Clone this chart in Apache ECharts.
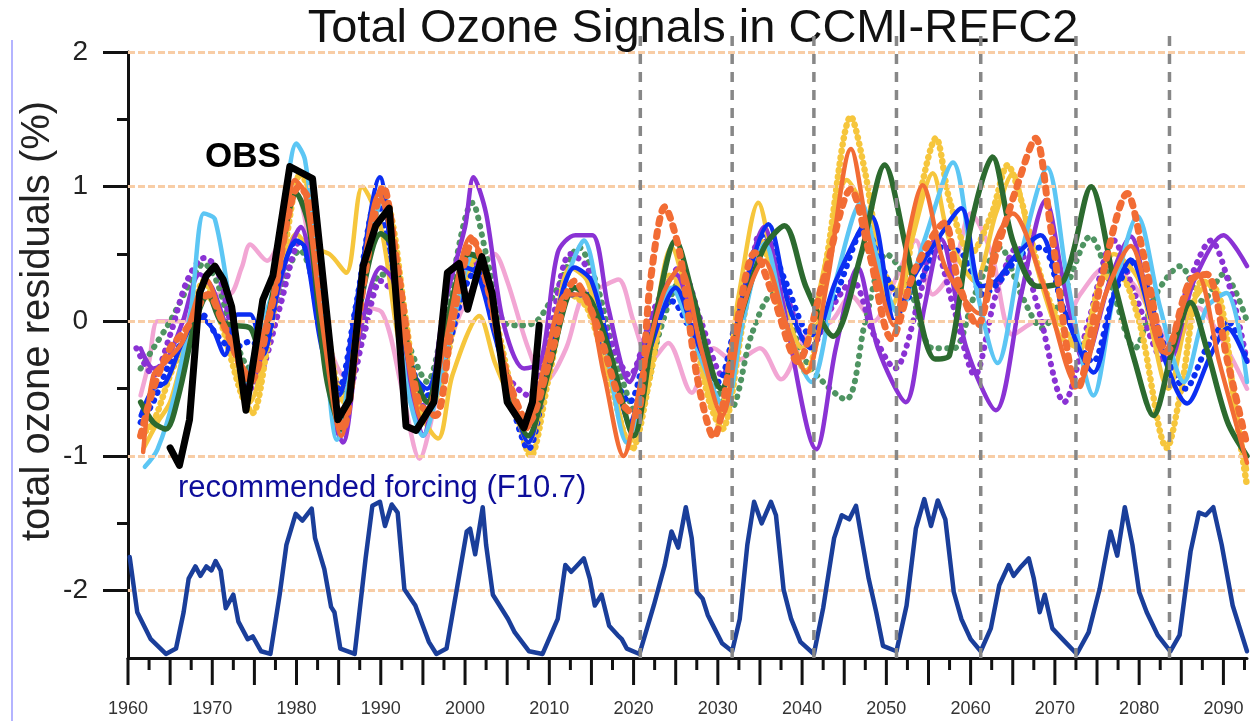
<!DOCTYPE html>
<html>
<head>
<meta charset="utf-8">
<script src="https://cdn.jsdelivr.net/npm/echarts@6/dist/echarts.min.js"></script>
<style>
  html, body { margin: 0; padding: 0; background: #fff; }
  #chart { width: 1250px; height: 721px; }
</style>
</head>
<body>
<div id="chart"></div>
<script>
/* 轴刻度 */
var yMajorTicks = [-2, -1, 0, 1, 2];
var yMinorTicks = [-1.5, -0.5, 0.5, 1.5];
var xMajorTicks = [1960, 1965, 1970, 1975, 1980, 1985, 1990, 1995, 2000, 2005, 2010, 2015, 2020, 2025, 2030, 2035, 2040, 2045, 2050, 2055, 2060, 2065, 2070, 2075, 2080, 2085, 2090];
var xMinorTicks = [1962.5, 1967.5, 1972.5, 1977.5, 1982.5, 1987.5, 1992.5, 1997.5, 2002.5, 2007.5, 2012.5, 2017.5, 2022.5, 2027.5, 2032.5, 2037.5, 2042.5, 2047.5, 2052.5, 2057.5, 2062.5, 2067.5, 2072.5, 2077.5, 2082.5, 2087.5, 2092.5];
var solarMinYears = [2020.8, 2031.7, 2041.4, 2051.2, 2061.2, 2072.5, 2083.6];

/* 太阳强迫 F10.7 (按比例画在下方) */
var f107 = [[1960.2,-1.75],[1961.1,-2.16],[1962.7,-2.36],[1964.5,-2.47],[1965.7,-2.43],[1966.6,-2.16],[1967.2,-1.91],[1968.0,-1.82],[1968.6,-1.89],[1969.3,-1.82],[1969.9,-1.85],[1970.4,-1.78],[1971.0,-1.85],[1971.6,-2.13],[1972.5,-2.03],[1973.1,-2.23],[1974.2,-2.36],[1974.8,-2.34],[1975.8,-2.45],[1976.9,-2.47],[1978.0,-2.03],[1978.8,-1.66],[1979.9,-1.43],[1980.7,-1.48],[1981.8,-1.39],[1982.2,-1.61],[1983.3,-1.84],[1984.1,-2.12],[1984.5,-2.16],[1985.2,-2.43],[1986.9,-2.47],[1988.2,-1.76],[1989.0,-1.37],[1989.9,-1.34],[1990.5,-1.52],[1991.3,-1.36],[1992.0,-1.42],[1992.8,-1.99],[1994.1,-2.11],[1995.7,-2.38],[1996.6,-2.47],[1997.8,-2.43],[1999.1,-1.96],[2000.2,-1.56],[2000.6,-1.54],[2001.2,-1.73],[2002.1,-1.38],[2002.5,-1.66],[2003.3,-2.03],[2004.1,-2.11],[2005.1,-2.21],[2005.9,-2.31],[2007.6,-2.45],[2009.2,-2.47],[2011.0,-2.21],[2011.9,-1.81],[2012.6,-1.86],[2013.2,-1.82],[2014.1,-1.76],[2014.8,-1.91],[2015.4,-2.11],[2016.2,-2.03],[2017.1,-2.26],[2018.1,-2.33],[2018.6,-2.36],[2019.2,-2.43],[2020.7,-2.47],[2022.4,-2.11],[2023.7,-1.81],[2024.5,-1.56],[2025.3,-1.68],[2026.2,-1.38],[2026.9,-1.61],[2027.5,-2.01],[2028.2,-2.06],[2028.8,-2.18],[2029.6,-2.28],[2030.5,-2.39],[2031.7,-2.45],[2032.6,-2.21],[2033.5,-1.66],[2034.3,-1.34],[2035.2,-1.50],[2036.3,-1.34],[2036.9,-1.44],[2037.8,-1.99],[2038.7,-2.21],[2039.8,-2.38],[2041.4,-2.47],[2042.5,-2.13],[2043.8,-1.61],[2044.7,-1.44],[2045.6,-1.47],[2046.4,-1.37],[2047.2,-1.66],[2047.9,-1.91],[2048.8,-2.16],[2049.6,-2.41],[2051.2,-2.45],[2052.4,-2.11],[2053.5,-1.54],[2054.5,-1.32],[2055.3,-1.52],[2056.1,-1.33],[2057.0,-1.47],[2058.0,-2.01],[2058.9,-2.21],[2060.0,-2.36],[2061.2,-2.45],[2062.4,-2.28],[2063.4,-1.96],[2064.5,-1.81],[2065.1,-1.89],[2066.0,-1.82],[2066.9,-1.76],[2067.5,-1.91],[2068.2,-2.16],[2068.8,-2.03],[2069.7,-2.28],[2070.9,-2.36],[2072.6,-2.47],[2074.0,-2.31],[2075.3,-1.99],[2076.6,-1.56],[2077.4,-1.74],[2078.3,-1.38],[2079.2,-1.66],[2080.0,-2.01],[2080.9,-2.16],[2082.2,-2.33],[2083.7,-2.45],[2084.8,-2.33],[2086.1,-1.71],[2087.1,-1.42],[2087.9,-1.44],[2088.8,-1.38],[2089.8,-1.66],[2091.1,-2.11],[2092.8,-2.45]];

/* 观测 */
var obs = [[1965.0,-0.94],[1966.1,-1.07],[1967.3,-0.73],[1968.5,0.21],[1969.3,0.34],[1970.3,0.41],[1971.3,0.31],[1972.3,0.11],[1974.0,-0.66],[1976.0,0.16],[1977.2,0.34],[1979.2,1.15],[1981.9,1.06],[1984.9,-0.73],[1986.3,-0.58],[1987.9,0.41],[1989.4,0.71],[1991.0,0.84],[1993.0,-0.78],[1994.2,-0.81],[1996.3,-0.60],[1997.9,0.36],[1999.3,0.43],[2000.3,0.09],[2002.0,0.48],[2003.2,0.21],[2005.0,-0.60],[2007.0,-0.79],[2008.0,-0.60],[2008.8,-0.03]];

/* 模式 */
var lightBlue = [[1962.0,-1.08],[1963.5,-0.95],[1965.5,-0.55],[1967.5,0.1],[1969.0,0.8],[1970.3,0.76],[1972.2,0.1],[1973.9,-0.45],[1975.5,-0.1],[1977.5,0.3],[1980.0,1.32],[1981.0,1.2],[1982.8,0.3],[1984.8,-0.88],[1987.0,-0.1],[1989.0,0.65],[1990.3,0.95],[1991.5,0.5],[1993.0,-0.45],[1995.0,-0.85],[1997.0,-0.45],[1999.0,0.1],[2001.0,0.5],[2002.5,0.35],[2004.5,-0.35],[2007.5,-0.85],[2010.0,-0.3],[2012.0,0.3],[2014.1,0.6],[2016.5,-0.1],[2019.2,-0.9],[2022.0,-0.2],[2024.5,0.25],[2027.5,-0.2],[2030.8,-0.64],[2033.0,0.0],[2035.6,0.58],[2038.0,0.0],[2041.1,-0.45],[2044.0,0.3],[2047.0,0.88],[2049.0,0.45],[2051.4,0.06],[2054.5,0.6],[2057.9,1.18],[2060.5,0.3],[2063.2,-0.31],[2066.0,0.5],[2069.1,1.14],[2071.5,0.3],[2074.6,-0.55],[2077.0,0.2],[2079.8,0.78],[2082.5,0.1],[2085.3,-0.45],[2088.0,0.1],[2090.4,0.21],[2092.8,-0.45]];
var blueSolid = [[1961.5,-0.7],[1963.0,-0.5],[1964.5,-0.45],[1966.5,-0.15],[1968.5,0.03],[1970.0,-0.05],[1971.5,-0.25],[1973.0,0.05],[1974.5,0.05],[1976.0,-0.25],[1978.0,0.3],[1980.0,0.6],[1981.0,0.55],[1983.0,-0.2],[1985.0,-0.55],[1987.0,0.1],[1989.9,1.07],[1991.5,0.35],[1993.5,-0.35],[1995.5,-0.5],[1997.5,-0.1],[2000.0,0.4],[2001.5,0.35],[2003.5,-0.1],[2005.5,-0.55],[2007.5,-0.9],[2010.0,-0.2],[2013.0,0.4],[2015.0,0.3],[2017.5,-0.3],[2019.5,-0.75],[2022.0,-0.2],[2025.0,0.25],[2027.5,-0.15],[2030.5,-0.5],[2033.0,0.2],[2036.0,0.72],[2038.5,0.1],[2041.0,-0.2],[2044.0,0.3],[2048.2,0.78],[2051.0,0.0],[2053.0,0.3],[2056.0,0.6],[2058.9,0.84],[2061.2,0.26],[2063.0,0.3],[2065.5,0.5],[2068.3,0.64],[2071.0,0.1],[2074.6,-0.38],[2077.0,0.2],[2079.0,0.46],[2082.0,-0.1],[2085.7,-0.61],[2088.5,-0.25],[2090.5,-0.05],[2092.8,-0.3]];
var darkGreen = [[1961.5,-0.6],[1963.0,-0.75],[1964.5,-0.8],[1966.0,-0.55],[1968.0,0.0],[1969.5,0.2],[1971.0,0.0],[1972.5,-0.03],[1974.5,-0.05],[1975.5,-0.2],[1977.5,0.3],[1980.0,0.95],[1981.5,0.7],[1983.5,-0.4],[1985.3,-0.8],[1987.5,0.1],[1990.0,0.65],[1991.5,0.55],[1993.5,-0.3],[1995.5,-0.6],[1997.5,-0.1],[2000.5,0.5],[2002.0,0.45],[2004.5,-0.3],[2007.5,-0.85],[2010.0,-0.35],[2013.0,0.25],[2015.0,0.15],[2017.5,-0.3],[2020.0,-0.85],[2022.5,0.0],[2025.0,0.6],[2027.0,0.2],[2030.4,-0.5],[2033.0,0.1],[2035.5,0.55],[2037.9,0.71],[2040.5,0.25],[2043.7,-0.11],[2047.0,0.5],[2049.8,1.16],[2052.5,0.5],[2055.8,-0.28],[2057.5,-0.25],[2060.0,0.7],[2062.6,1.22],[2065.0,0.6],[2067.9,0.26],[2071.1,0.31],[2074.3,1.0],[2077.0,0.3],[2079.5,-0.3],[2081.7,-0.70],[2084.0,-0.2],[2086.1,0.14],[2088.0,-0.2],[2090.5,-0.75],[2092.8,-1.0]];
var orangeSolid = [[1961.8,-0.97],[1963.0,-0.4],[1964.5,-0.3],[1966.5,-0.15],[1969.3,0.31],[1971.0,0.05],[1972.5,-0.2],[1974.5,-0.4],[1976.0,-0.1],[1978.0,0.4],[1979.8,1.05],[1981.0,0.95],[1983.0,0.0],[1985.3,-0.85],[1987.5,0.2],[1989.8,0.95],[1991.0,0.7],[1993.0,-0.2],[1995.0,-0.75],[1997.5,-0.2],[2000.7,0.63],[2002.0,0.45],[2004.5,-0.3],[2007.3,-0.8],[2009.5,-0.3],[2012.0,0.2],[2014.0,0.2],[2016.5,-0.4],[2018.8,-1.0],[2021.0,-0.4],[2023.5,0.2],[2025.5,0.4],[2028.0,-0.2],[2030.5,-0.7],[2033.0,0.1],[2035.5,0.45],[2038.0,0.0],[2040.5,-0.38],[2043.0,0.3],[2045.8,1.28],[2048.0,0.6],[2050.9,-0.03],[2052.5,0.6],[2054.3,1.01],[2057.0,0.4],[2061.0,0.06],[2063.0,0.6],[2065.0,0.8],[2068.5,0.3],[2072.7,-0.48],[2076.0,0.2],[2079.0,0.56],[2082.9,-0.23],[2086.9,0.35],[2089.5,-0.3],[2092.8,-1.05]];
var orangeDot = [[1961.5,-0.85],[1963.0,-0.5],[1965.0,-0.2],[1967.0,-0.05],[1969.5,0.2],[1971.5,-0.05],[1974.5,-0.45],[1977.0,0.1],[1980.3,1.0],[1981.5,0.9],[1983.5,0.0],[1985.5,-0.8],[1988.0,0.3],[1990.3,1.0],[1992.0,0.4],[1994.5,-0.6],[1996.5,-0.7],[1998.5,0.0],[2001.0,0.6],[2002.5,0.3],[2005.0,-0.4],[2007.5,-0.75],[2010.0,-0.3],[2013.0,0.3],[2015.5,0.0],[2018.5,-0.6],[2020.3,-0.7],[2022.0,0.3],[2023.7,0.85],[2025.5,0.5],[2027.5,-0.4],[2029.5,-0.86],[2032.0,-0.1],[2034.4,0.51],[2036.5,0.2],[2039.5,-0.3],[2042.5,0.3],[2045.8,0.98],[2048.0,0.5],[2050.6,-0.13],[2053.5,0.4],[2056.9,0.73],[2058.5,0.3],[2060.8,-0.03],[2063.0,0.5],[2065.5,1.0],[2067.7,1.36],[2069.5,0.7],[2072.7,-0.5],[2075.5,0.3],[2078.6,0.95],[2080.5,0.5],[2083.3,-0.23],[2086.0,0.3],[2088.0,0.35],[2090.5,-0.3],[2092.8,-0.92]];
var yellowSolid = [[1961.8,-0.95],[1963.5,-0.75],[1965.0,-0.6],[1967.0,-0.15],[1969.0,0.2],[1970.5,0.1],[1972.5,-0.2],[1974.5,-0.6],[1976.0,-0.3],[1978.0,0.3],[1980.0,0.65],[1981.5,0.55],[1983.9,0.5],[1985.9,0.36],[1987.8,1.0],[1990.0,0.7],[1992.0,-0.1],[1994.0,-0.6],[1996.8,-0.87],[1998.5,-0.4],[2001.7,0.04],[2003.5,-0.3],[2005.5,-0.6],[2007.5,-0.9],[2010.0,-0.3],[2012.5,0.4],[2014.5,0.3],[2017.0,-0.3],[2019.5,-0.9],[2022.0,-0.2],[2024.5,0.55],[2027.0,0.0],[2030.0,-0.7],[2032.5,0.2],[2034.8,0.88],[2037.0,0.3],[2040.0,-0.2],[2043.0,0.5],[2045.3,1.05],[2047.5,0.8],[2050.5,0.1],[2053.0,0.6],[2055.5,1.1],[2057.5,0.6],[2060.5,0.3],[2063.0,0.8],[2065.0,1.1],[2067.0,0.6],[2070.5,-0.1],[2073.0,-0.2],[2075.0,0.2],[2077.0,0.5],[2080.0,0.3],[2083.5,-0.5],[2086.0,0.1],[2088.5,0.3],[2091.0,-0.5],[2092.8,-1.1]];
var yellowDot = [[1961.5,-0.85],[1963.0,-0.75],[1965.0,-0.4],[1967.0,-0.1],[1969.0,0.3],[1971.0,0.0],[1973.5,-0.55],[1974.8,-0.68],[1976.5,-0.2],[1978.5,0.5],[1980.5,1.1],[1981.5,0.95],[1983.5,0.0],[1985.5,-0.6],[1987.5,0.1],[1989.5,0.9],[1991.0,0.85],[1993.0,0.0],[1995.0,-0.7],[1997.0,-0.5],[1999.5,0.2],[2001.5,0.5],[2003.0,0.2],[2005.5,-0.5],[2007.8,-1.0],[2010.0,-0.4],[2012.5,0.2],[2014.5,0.1],[2017.0,-0.4],[2019.8,-0.95],[2022.0,-0.4],[2024.5,0.35],[2026.5,0.1],[2029.0,-0.6],[2030.5,-0.8],[2033.0,0.0],[2035.0,0.6],[2037.5,0.1],[2040.5,-0.38],[2043.0,0.5],[2045.8,1.52],[2047.5,1.1],[2049.5,0.4],[2051.5,0.2],[2053.5,0.8],[2055.9,1.36],[2057.5,0.9],[2060.0,0.5],[2062.5,0.8],[2064.4,1.16],[2066.0,0.9],[2068.5,0.3],[2070.5,0.0],[2073.0,-0.2],[2075.5,0.3],[2077.5,0.35],[2080.0,0.0],[2083.3,-0.94],[2085.0,-0.5],[2087.5,0.3],[2089.5,0.2],[2091.5,-0.7],[2092.8,-1.22]];
var purpleSolid = [[1961.5,-0.2],[1963.0,-0.35],[1964.5,-0.3],[1966.5,0.0],[1968.5,0.35],[1970.0,0.25],[1972.0,-0.1],[1974.5,-0.45],[1976.5,-0.1],[1979.0,0.5],[1980.5,0.7],[1982.0,0.3],[1984.5,-0.75],[1985.5,-0.9],[1987.5,-0.1],[1990.0,0.4],[1991.5,0.3],[1993.5,-0.5],[1995.0,-0.85],[1997.5,0.1],[2000.0,0.7],[2001.0,1.07],[2002.5,0.8],[2004.5,0.0],[2007.0,-0.35],[2009.0,-0.3],[2011.0,0.51],[2013.1,0.64],[2015.1,0.64],[2017.0,0.1],[2019.5,-0.45],[2022.0,0.0],[2025.0,0.35],[2027.5,-0.1],[2030.5,-0.5],[2033.0,0.2],[2035.5,0.7],[2037.5,0.2],[2041.7,-0.95],[2044.0,-0.2],[2046.6,0.4],[2049.0,-0.2],[2052.3,-0.6],[2054.5,0.1],[2056.5,0.61],[2059.5,-0.2],[2063.0,-0.66],[2066.0,0.2],[2068.9,0.9],[2071.0,0.3],[2073.5,-0.3],[2076.5,0.3],[2079.0,0.63],[2081.5,0.0],[2083.5,-0.3],[2086.5,0.3],[2090.0,0.64],[2092.8,0.41]];
var purpleDot = [[1961.0,-0.2],[1963.0,-0.4],[1965.0,-0.1],[1967.0,0.3],[1969.0,0.47],[1970.5,0.4],[1972.5,-0.1],[1974.5,-0.5],[1976.0,-0.35],[1978.0,0.1],[1980.5,0.6],[1982.0,0.35],[1984.0,-0.4],[1986.0,-0.5],[1988.0,-0.1],[1990.0,0.3],[1991.5,0.2],[1993.5,-0.5],[1995.5,-0.65],[1998.0,0.0],[2000.5,0.5],[2002.5,0.2],[2005.0,-0.4],[2007.5,-0.55],[2010.0,-0.1],[2012.5,0.5],[2014.5,0.4],[2017.0,-0.1],[2019.5,-0.4],[2022.5,0.1],[2025.5,0.4],[2028.0,0.0],[2030.5,-0.4],[2033.5,0.2],[2035.0,0.65],[2037.5,0.3],[2041.0,-0.2],[2043.5,0.1],[2046.0,0.3],[2048.5,-0.1],[2051.0,-0.35],[2054.0,0.2],[2055.5,0.6],[2058.0,0.1],[2060.5,-0.4],[2063.0,0.2],[2065.5,0.55],[2068.0,0.1],[2071.1,-0.6],[2074.0,0.0],[2077.0,0.6],[2079.5,0.2],[2083.0,-0.3],[2086.0,0.3],[2088.5,0.6],[2091.0,0.2],[2092.8,-0.3]];
var greenDot = [[1961.5,-0.35],[1963.0,-0.2],[1965.0,0.0],[1967.5,0.3],[1969.0,0.43],[1970.5,0.3],[1972.5,-0.1],[1974.5,-0.35],[1976.5,-0.1],[1978.5,0.3],[1980.4,0.53],[1982.0,0.3],[1983.5,-0.2],[1985.5,-0.55],[1987.5,-0.2],[1990.0,0.35],[1991.5,0.3],[1993.5,-0.2],[1995.5,-0.45],[1997.5,0.0],[2000.9,0.88],[2002.5,0.5],[2004.5,0.0],[2006.5,-0.03],[2008.5,0.0],[2011.0,0.25],[2013.5,0.55],[2015.5,0.3],[2018.0,-0.3],[2020.5,-0.7],[2023.0,-0.1],[2025.5,0.3],[2028.5,-0.3],[2031.5,-0.65],[2034.0,-0.1],[2036.5,0.2],[2038.0,0.1],[2040.5,-0.3],[2045.2,-0.58],[2047.5,0.0],[2050.0,0.5],[2052.5,0.3],[2055.5,-0.2],[2058.0,-0.2],[2060.5,0.2],[2063.5,0.55],[2066.0,0.2],[2068.5,-0.05],[2071.0,0.2],[2074.2,0.63],[2076.5,0.3],[2079.5,-0.2],[2082.0,0.2],[2084.9,0.41],[2087.5,0.15],[2090.0,0.35],[2092.8,0.0]];
var pinkSolid = [[1961.5,-0.55],[1962.5,-0.3],[1963.5,0.0],[1965.0,0.0],[1966.5,0.0],[1968.0,0.1],[1970.0,0.2],[1972.0,0.2],[1973.5,0.4],[1974.5,0.57],[1976.5,0.45],[1978.0,0.6],[1980.0,0.95],[1981.5,0.6],[1983.5,-0.1],[1985.5,-0.4],[1987.5,0.1],[1990.2,0.06],[1992.5,-0.5],[1994.6,-1.02],[1996.5,-0.6],[1998.5,-0.1],[2000.5,0.2],[2003.5,0.5],[2005.0,0.3],[2007.5,-0.2],[2009.5,-0.45],[2012.0,-0.2],[2014.0,0.2],[2016.0,0.25],[2018.2,0.31],[2020.0,0.0],[2022.0,-0.3],[2024.1,-0.16],[2026.9,-0.53],[2029.5,-0.2],[2032.0,-0.3],[2035.0,-0.2],[2037.5,-0.43],[2040.5,-0.1],[2043.5,0.0],[2045.8,0.19],[2048.5,0.0],[2051.0,0.3],[2053.5,0.6],[2055.5,0.2],[2058.0,0.4],[2060.0,0.8],[2062.5,0.5],[2065.0,-0.1],[2068.0,0.0],[2071.0,0.0],[2073.0,0.2],[2076.0,0.4],[2079.0,0.3],[2082.0,0.0],[2084.0,-0.2],[2087.0,0.1],[2089.5,-0.1],[2092.8,-0.5]];
var blueDot = [[1961.5,-0.75],[1963.0,-0.6],[1965.0,-0.3],[1967.0,-0.1],[1968.8,0.05],[1970.5,-0.1],[1972.5,-0.2],[1974.5,-0.15],[1976.0,-0.2],[1978.0,0.3],[1980.0,0.6],[1981.0,0.55],[1983.0,-0.1],[1985.0,-0.5],[1987.0,0.1],[1989.5,0.9],[1991.0,0.5],[1993.0,-0.2],[1995.5,-0.55],[1997.5,-0.3],[2000.0,0.25],[2001.5,0.4],[2003.5,-0.05],[2005.5,-0.6],[2007.5,-0.95],[2010.0,-0.3],[2012.5,0.2],[2014.5,0.2],[2017.0,-0.3],[2019.5,-0.6],[2022.0,-0.1],[2024.5,0.15],[2027.0,-0.1],[2030.0,-0.45],[2032.5,0.1],[2035.5,0.65],[2038.0,0.3],[2041.0,-0.1],[2044.0,0.2],[2047.5,0.7],[2049.5,0.4],[2052.0,0.15],[2054.0,0.3],[2056.5,0.55],[2059.0,0.5],[2061.5,0.2],[2063.5,0.3],[2066.0,0.5],[2068.5,0.55],[2071.0,0.1],[2074.5,-0.3],[2077.0,0.2],[2079.5,0.45],[2082.5,-0.1],[2085.5,-0.5],[2088.0,-0.2],[2090.5,0.0],[2092.8,-0.3]];

var FONT = 'Liberation Sans, Arial, sans-serif';
var DOT = [0.5, 8];

function line(name, data, color, width, dash, z, smooth) {
	return {
		name: name,
		type: 'line',
		data: data,
		symbol: 'none',
		smooth: smooth,
		z: z,
		silent: true,
		lineStyle: {
			color: color,
			width: width,
			type: dash || 'solid',
			cap: 'round',
			join: 'round'
		}
	};
}

// x轴刻度线: 从轴线向下画
function tickSeries(ticks, len) {
	return {
		type: 'custom', z: 8, silent: true, clip: false,
		data: ticks.map(function (t) { return [t, -2.5]; }),
		renderItem: function (params, api) {
			var p = api.coord([api.value(0), -2.5]);
			return {
				type: 'line',
				shape: { x1: p[0], y1: p[1], x2: p[0], y2: p[1] + len },
				style: { stroke: '#111', lineWidth: 3 }
			};
		}
	};
}

var myChart = echarts.init(document.getElementById('chart'));

var series = [
	// 水平网格线
	{
		type: 'line', data: [], z: 1, silent: true,
		markLine: {
			symbol: 'none', silent: true, animation: false,
			label: { show: false },
			lineStyle: { color: '#f8cda6', width: 3, type: [7, 3] },
			data: yMajorTicks.map(function (v) { return { yAxis: v }; })
		}
	},
	line('pink', pinkSolid, '#f2a6d4', 4.5, null, 3, 0.3),
	line('green dotted', greenDot, '#4f9462', 6, DOT, 3, 0.3),
	line('purple dotted', purpleDot, '#8a32d4', 6, DOT, 3, 0.3),
	line('yellow dotted', yellowDot, '#f6c63c', 6.5, [0.5, 6], 3, 0.3),
	line('blue dotted', blueDot, '#0b2ef2', 6, DOT, 3, 0.3),
	line('yellow', yellowSolid, '#f6c63c', 4.5, null, 4, 0.3),
	line('purple', purpleSolid, '#8a32d4', 4.5, null, 4, 0.3),
	line('light blue', lightBlue, '#5cc6f4', 4.5, null, 4, 0.3),
	line('blue', blueSolid, '#0b2ef2', 4.5, null, 4, 0.3),
	line('dark green', darkGreen, '#2c6a2f', 5.5, null, 5, 0.3),
	line('orange dotted', orangeDot, '#f26c34', 7, [5, 8], 5, 0.3),
	line('orange', orangeSolid, '#f26c34', 4.5, null, 5, 0.3),
	line('OBS', obs, '#000000', 7, null, 6, false),
	line('F10.7', f107, '#1a3e9a', 4.5, null, 6, false),
	// 太阳活动极小年的竖虚线 (上端略超出绘图区)
	{
		type: 'custom', z: 7, silent: true, clip: false,
		data: solarMinYears.map(function (yr) { return [yr, -2.5]; }),
		renderItem: function (params, api) {
			var bottom = api.coord([api.value(0), -2.5]);
			var top = api.coord([api.value(0), 2]);
			return {
				type: 'line',
				shape: { x1: bottom[0], y1: bottom[1], x2: top[0], y2: top[1] - 22 },
				style: { stroke: '#878787', lineWidth: 3.5, lineDash: [10, 8] }
			};
		}
	},
	tickSeries(xMajorTicks, 27),
	tickSeries(xMinorTicks, 12)
];

var tickStyle = { color: '#111', width: 3 };

var option = {
	animation: false,
	backgroundColor: '#fff',
	title: {
		text: 'Total Ozone Signals in CCMI-REFC2',
		left: 688,
		top: 1,
		textAlign: 'center',
		textStyle: { fontFamily: FONT, fontSize: 47, fontWeight: 'normal', color: '#111' }
	},
	grid: { left: 128, right: 0, top: 52, bottom: 63, containLabel: false },
	xAxis: {
		type: 'value',
		min: 1960,
		max: 2092.8,
		interval: 5,
		axisLine: { onZero: false, lineStyle: { color: '#111', width: 3 } },
		axisTick: { show: false },
		splitLine: { show: false },
		axisLabel: {
			showMinLabel: true,
			margin: 42,
			fontFamily: FONT,
			fontSize: 18,
			color: '#333',
			formatter: function (v) { return v % 10 === 0 ? String(v) : ''; }
		}
	},
	yAxis: [{
		type: 'value',
		min: -2.5,
		max: 2,
		position: 'left',
		axisLine: { show: true, onZero: false, lineStyle: { color: '#111', width: 3 } },
		axisTick: { show: true, customValues: yMajorTicks, length: 25, lineStyle: tickStyle },
		axisLabel: { customValues: yMajorTicks, margin: 40, fontFamily: FONT, fontSize: 28, color: '#222' },
		splitLine: { show: false }
	}, {
		type: 'value',
		min: -2.5,
		max: 2,
		position: 'left',
		axisLine: { show: false, onZero: false },
		axisTick: { show: true, customValues: yMinorTicks, length: 11, lineStyle: tickStyle },
		axisLabel: { show: false },
		splitLine: { show: false }
	}],
	graphic: [
		{ type: 'rect', shape: { x: 11, y: 40, width: 2, height: 681 }, style: { fill: '#b4b4ff' }, silent: true },
		{
			type: 'text', x: 38, y: 321, rotation: Math.PI / 2, silent: true,
			style: { text: 'total ozone residuals (%)', font: '40px ' + FONT, fill: '#222', align: 'center', verticalAlign: 'middle' }
		},
		{
			type: 'text', x: 205, y: 157, silent: true, z: 100,
			style: { text: 'OBS', font: 'bold 35px ' + FONT, fill: '#000', align: 'left', verticalAlign: 'middle' }
		},
		{
			type: 'text', x: 178, y: 488, silent: true, z: 100,
			style: { text: 'recommended forcing (F10.7)', font: '31px ' + FONT, fill: '#0d0d9a', align: 'left', verticalAlign: 'middle' }
		}
	],
	series: series
};

myChart.setOption(option);
</script>
</body>
</html>
